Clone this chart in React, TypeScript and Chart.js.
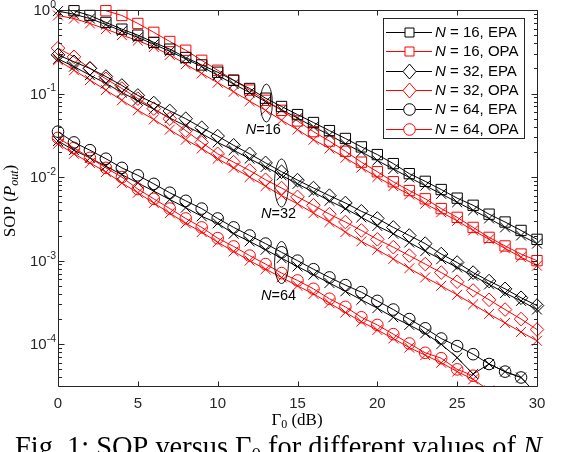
import { useEffect, useRef } from 'react';
import { Chart, registerables } from 'chart.js';

Chart.register(...registerables);

// ---------- data ----------
const gammaDb = [0, 1, 2, 3, 4, 5, 6, 7, 8, 9, 10, 11, 12, 13, 14, 15, 16, 17, 18, 19, 20, 21, 22, 23, 24, 25, 26, 27, 28, 29, 30];

const n16Epa = [null, 0.98, 0.86, 0.71, 0.59, 0.5, 0.41, 0.34, 0.27, 0.22, 0.18, 0.144, 0.115, 0.088, 0.07, 0.056, 0.045, 0.036, 0.029, 0.023, 0.0186, 0.0145, 0.011, 0.0089, 0.0071, 0.0056, 0.0046, 0.0036, 0.0029, 0.0023, 0.0018];
const n16Opa = [null, null, null, 0.98, 0.86, 0.69, 0.54, 0.42, 0.33, 0.25, 0.19, 0.145, 0.11, 0.083, 0.063, 0.047, 0.035, 0.027, 0.0204, 0.0151, 0.0116, 0.0088, 0.0069, 0.0055, 0.0042, 0.0033, 0.0025, 0.0019, 0.0015, 0.0012, 0.001];
const n16EpaX = [0.97, 0.89, 0.79, 0.67, 0.56, 0.47, 0.39, 0.32, 0.26, 0.21, 0.165, 0.13, 0.103, 0.08, 0.064, 0.051, 0.04, 0.032, 0.025, 0.02, 0.0158, 0.0125, 0.0099, 0.0079, 0.0063, 0.005, 0.004, 0.0032, 0.0025, 0.002, 0.0016];
const n16OpaX = [0.86, 0.79, 0.69, 0.59, 0.5, 0.43, 0.36, 0.29, 0.224, 0.174, 0.135, 0.105, 0.081, 0.063, 0.048, 0.037, 0.028, 0.022, 0.017, 0.013, 0.01, 0.0078, 0.0062, 0.0048, 0.0038, 0.003, 0.0023, 0.0018, 0.0014, 0.0011, 0.00087];

const n32Epa = [0.29, 0.24, 0.2, 0.16, 0.125, 0.095, 0.077, 0.062, 0.05, 0.039, 0.031, 0.024, 0.019, 0.0148, 0.0116, 0.0092, 0.0074, 0.006, 0.0049, 0.0039, 0.0032, 0.0025, 0.002, 0.0016, 0.0012, 0.00095, 0.00072, 0.00057, 0.00046, 0.00036, 0.00029];
const n32Opa = [0.35, 0.275, 0.2, 0.15, 0.115, 0.087, 0.066, 0.05, 0.036, 0.026, 0.019, 0.0151, 0.012, 0.0093, 0.0074, 0.0058, 0.0046, 0.0036, 0.0029, 0.0023, 0.0018, 0.00145, 0.00115, 0.00091, 0.00072, 0.00056, 0.00044, 0.00034, 0.00026, 0.0002, 0.00015];
const n32EpaX = [0.26, 0.21, 0.166, 0.132, 0.103, 0.082, 0.065, 0.051, 0.041, 0.033, 0.026, 0.021, 0.0166, 0.0132, 0.0105, 0.0083, 0.0066, 0.0052, 0.0042, 0.0033, 0.0026, 0.0021, 0.00165, 0.0013, 0.00104, 0.00083, 0.00066, 0.00052, 0.00041, 0.00033, 0.00026];
const n32OpaX = [0.25, 0.19, 0.145, 0.11, 0.083, 0.063, 0.049, 0.037, 0.028, 0.022, 0.0166, 0.0129, 0.01, 0.0078, 0.006, 0.0048, 0.0037, 0.0029, 0.0022, 0.0017, 0.00135, 0.00105, 0.00081, 0.00063, 0.0005, 0.00039, 0.0003, 0.00023, 0.00018, 0.00014, 0.00011];

const n64Epa = [0.035, 0.026, 0.021, 0.0166, 0.0129, 0.0105, 0.0083, 0.0065, 0.0052, 0.0042, 0.0032, 0.0025, 0.002, 0.0016, 0.00126, 0.001, 0.00079, 0.00063, 0.00051, 0.00042, 0.00033, 0.00026, 0.0002, 0.000155, 0.000117, 0.000095, 0.000076, 0.000058, 0.000047, 0.00004, null];
const n64Opa = [0.0295, 0.0224, 0.017, 0.0129, 0.01, 0.0072, 0.0055, 0.0042, 0.0032, 0.0025, 0.00186, 0.00148, 0.00115, 0.00091, 0.00071, 0.00058, 0.00046, 0.00035, 0.00028, 0.00021, 0.00017, 0.000132, 0.000102, 0.000079, 0.000068, 0.00005, 0.000042, null, null, null, null];
const n64EpaX = [0.027, 0.021, 0.017, 0.0135, 0.0107, 0.0085, 0.0068, 0.0054, 0.0043, 0.0034, 0.0028, 0.0021, 0.0017, 0.00135, 0.00107, 0.00085, 0.00068, 0.00054, 0.00043, 0.00034, 0.00027, 0.00021, 0.00017, 0.000135, 0.0001, 0.000069, 0.000044, 0.000058, 0.000047, 0.00004, 0.000025];
const n64OpaX = [0.025, 0.019, 0.0148, 0.0115, 0.0085, 0.0065, 0.0049, 0.0037, 0.0028, 0.0022, 0.00166, 0.00129, 0.001, 0.00079, 0.00063, 0.0005, 0.0004, 0.00031, 0.00024, 0.000186, 0.000148, 0.000117, 0.000091, 0.000074, 0.00006, 0.000047, 0.000038, 0.000028, null, null, null];

const xTicks = [0, 5, 10, 15, 20, 25, 30];
const yDecades = [0, -1, -2, -3, -4];
const yMinorDecades = [-5, -4, -3, -2, -1];
const xMin = 0;
const xMax = 30;
const yMin = Math.pow(10, -4.5);
const yMax = 1;

// annotation ellipses: [dB, value] and labels
const annotLabels = ['16', '32', '64'];
const annotX = [13.05, 14.0, 14.0];
const annotY = [0.077, 0.0085, 0.00095];

const BLACK = '#000000';
const RED = '#ff0000';
const AXIS = '#262626';

type Series = { label: string; data: (number | null)[]; color: string; style: string; r: number; legend: boolean };

const series: Series[] = [
  { label: '16, EPA', data: n16Epa, color: BLACK, style: 'rect', r: 7.3, legend: true },
  { label: '16, OPA', data: n16Opa, color: RED, style: 'rect', r: 7.3, legend: true },
  { label: '32, EPA', data: n32Epa, color: BLACK, style: 'rectRot', r: 6.8, legend: true },
  { label: '32, OPA', data: n32Opa, color: RED, style: 'rectRot', r: 6.8, legend: true },
  { label: '64, EPA', data: n64Epa, color: BLACK, style: 'circle', r: 5.8, legend: true },
  { label: '64, OPA', data: n64Opa, color: RED, style: 'circle', r: 5.8, legend: true },
  { label: 'x16e', data: n16EpaX, color: BLACK, style: 'crossRot', r: 7, legend: false },
  { label: 'x16o', data: n16OpaX, color: RED, style: 'crossRot', r: 7, legend: false },
  { label: 'x32e', data: n32EpaX, color: BLACK, style: 'crossRot', r: 7, legend: false },
  { label: 'x32o', data: n32OpaX, color: RED, style: 'crossRot', r: 7, legend: false },
  { label: 'x64e', data: n64EpaX, color: BLACK, style: 'crossRot', r: 7, legend: false },
  { label: 'x64o', data: n64OpaX, color: RED, style: 'crossRot', r: 7, legend: false },
];

type Part = { text: string; font: string; dy?: number };

function drawParts(ctx: CanvasRenderingContext2D, parts: Part[], x: number, y: number, align: 'left' | 'center' | 'right', baseline: CanvasTextBaseline) {
  ctx.textBaseline = baseline;
  ctx.textAlign = 'left';
  let total = 0;
  for (const p of parts) {
    ctx.font = p.font;
    total += ctx.measureText(p.text).width;
  }
  let cx = align === 'left' ? x : align === 'center' ? x - total / 2 : x - total;
  for (const p of parts) {
    ctx.font = p.font;
    ctx.fillText(p.text, cx, y + (p.dy || 0));
    cx += ctx.measureText(p.text).width;
  }
}

const SANS = '"Liberation Sans", Arial, sans-serif';
const SERIF = '"Liberation Serif", "Times New Roman", serif';

const decorPlugin = {
  id: 'decor',
  afterDraw(chart: any) {
    const ctx: CanvasRenderingContext2D = chart.ctx;
    const xs = chart.scales.x;
    const ys = chart.scales.y;
    const a = chart.chartArea;
    ctx.save();

    // axes box
    ctx.strokeStyle = AXIS;
    ctx.lineWidth = 1;
    const L = Math.round(a.left) + 0.5;
    const R = Math.round(a.right) + 0.5;
    const T = Math.round(a.top) + 0.5;
    const B = Math.round(a.bottom) + 0.5;
    ctx.beginPath();
    ctx.rect(L, T, R - L, B - T);
    ctx.stroke();

    // x ticks
    ctx.beginPath();
    for (const t of xTicks) {
      const px = Math.round(xs.getPixelForValue(t)) + 0.5;
      ctx.moveTo(px, B);
      ctx.lineTo(px, B - 5);
      ctx.moveTo(px, T);
      ctx.lineTo(px, T + 5);
    }
    // y major ticks
    for (const d of yDecades) {
      const py = Math.round(ys.getPixelForValue(Math.pow(10, d))) + 0.5;
      ctx.moveTo(L, py);
      ctx.lineTo(L + 6, py);
      ctx.moveTo(R, py);
      ctx.lineTo(R - 6, py);
    }
    // y minor ticks
    for (const d of yMinorDecades) {
      for (let m = 2; m <= 9; m++) {
        const v = m * Math.pow(10, d);
        if (v < yMin || v > yMax) continue;
        const py = Math.round(ys.getPixelForValue(v)) + 0.5;
        ctx.moveTo(L, py);
        ctx.lineTo(L + 3.5, py);
        ctx.moveTo(R, py);
        ctx.lineTo(R - 3.5, py);
      }
    }
    ctx.stroke();

    // tick labels
    ctx.fillStyle = AXIS;
    for (const t of xTicks) {
      const px = xs.getPixelForValue(t);
      drawParts(ctx, [{ text: String(t), font: `15px ${SANS}` }], px, B + 17, 'center', 'middle');
    }
    for (const d of yDecades) {
      const py = ys.getPixelForValue(Math.pow(10, d));
      drawParts(
        ctx,
        [
          { text: '10', font: `15px ${SANS}` },
          { text: String(d), font: `10.5px ${SANS}`, dy: -6 },
        ],
        56,
        py + 1,
        'right',
        'middle'
      );
    }

    // axis titles
    ctx.fillStyle = '#000';
    drawParts(
      ctx,
      [
        { text: 'Γ', font: `17px ${SERIF}` },
        { text: '0', font: `12px ${SERIF}`, dy: 4 },
        { text: ' (dB)', font: `17px ${SERIF}` },
      ],
      297,
      421,
      'center',
      'middle'
    );
    ctx.save();
    ctx.translate(11, 201);
    ctx.rotate(-Math.PI / 2);
    drawParts(
      ctx,
      [
        { text: 'SOP (', font: `17px ${SERIF}` },
        { text: 'P', font: `italic 17px ${SERIF}` },
        { text: 'out', font: `italic 12px ${SERIF}`, dy: 4 },
        { text: ')', font: `17px ${SERIF}` },
      ],
      0,
      0,
      'center',
      'middle'
    );
    ctx.restore();

    // annotations (ellipses + labels)
    const radii = [
      [6, 19],
      [7, 24],
      [7, 21],
    ];
    const labelDy = [27, 31, 33];
    ctx.strokeStyle = '#000';
    ctx.lineWidth = 0.9;
    for (let i = 0; i < annotLabels.length; i++) {
      const cx = xs.getPixelForValue(annotX[i]);
      const cy = ys.getPixelForValue(annotY[i]);
      ctx.beginPath();
      ctx.ellipse(cx, cy, radii[i][0], radii[i][1], 0, 0, Math.PI * 2);
      ctx.stroke();
      ctx.fillStyle = '#000';
      drawParts(
        ctx,
        [
          { text: 'N', font: `italic 14.5px ${SANS}` },
          { text: '=' + annotLabels[i], font: `14.5px ${SANS}` },
        ],
        cx + 14.5,
        cy + labelDy[i],
        'right',
        'middle'
      );
    }

    // legend
    const lx0 = 383.5, ly0 = 18.5, lx1 = 524.5, ly1 = 138.5;
    ctx.fillStyle = '#ffffff';
    ctx.fillRect(lx0, ly0, lx1 - lx0, ly1 - ly0);
    ctx.strokeStyle = AXIS;
    ctx.lineWidth = 1;
    ctx.strokeRect(lx0, ly0, lx1 - lx0, ly1 - ly0);
    const legendItems = series.filter((s) => s.legend);
    legendItems.forEach((s, i) => {
      const y = 32 + i * 19.3;
      const my = Math.round(y) + 0.5;
      const mx = 409.5;
      ctx.lineWidth = 1;
      ctx.strokeStyle = s.color;
      ctx.beginPath();
      ctx.moveTo(386, my);
      ctx.lineTo(432, my);
      ctx.stroke();
      ctx.fillStyle = '#ffffff';
      ctx.strokeStyle = s.color;
      ctx.beginPath();
      if (s.style === 'rect') {
        ctx.rect(mx - 4.5, my - 4.5, 9, 9);
      } else if (s.style === 'rectRot') {
        ctx.moveTo(mx, my - 7.5);
        ctx.lineTo(mx + 6.5, my);
        ctx.lineTo(mx, my + 7.5);
        ctx.lineTo(mx - 6.5, my);
        ctx.closePath();
      } else {
        ctx.arc(mx, my, 5.8, 0, Math.PI * 2);
      }
      ctx.fill();
      ctx.stroke();
      ctx.fillStyle = '#000';
      drawParts(
        ctx,
        [
          { text: 'N', font: `italic 15px ${SANS}` },
          { text: ' = ' + s.label, font: `15px ${SANS}` },
        ],
        435,
        y + 1,
        'left',
        'middle'
      );
    });

    // caption
    ctx.fillStyle = '#000';
    drawParts(
      ctx,
      [
        { text: 'Fig. 1: SOP versus Γ', font: `28.4px ${SERIF}` },
        { text: '0', font: `19px ${SERIF}`, dy: 5 },
        { text: ' for different values of ', font: `28.4px ${SERIF}` },
        { text: 'N', font: `italic 28.4px ${SERIF}` },
      ],
      15,
      456,
      'left',
      'alphabetic'
    );

    ctx.restore();
  },
};

export default function App() {
  const ref = useRef<HTMLCanvasElement | null>(null);

  useEffect(() => {
    if (!ref.current) return;
    const datasets = series.map((s) => ({
      label: s.label,
      data: gammaDb.map((g, i) => ({ x: g, y: s.data[i] })),
      borderColor: s.color,
      borderWidth: 1,
      pointStyle: s.style,
      pointRadius: s.r,
      pointBorderWidth: 1,
      pointBorderColor: s.color,
      pointBackgroundColor: 'rgba(0,0,0,0)',
      pointHoverRadius: s.r,
      showLine: true,
      fill: false,
      tension: 0,
      spanGaps: false,
      clip: { left: 10, right: 10, top: 10, bottom: 0 },
    }));
    const chart = new Chart(ref.current, {
      type: 'line',
      data: { datasets: datasets as any },
      options: {
        animation: false,
        responsive: false,
        events: [],
        layout: { padding: { left: 58, right: 25, top: 10, bottom: 66 } },
        plugins: { legend: { display: false }, tooltip: { enabled: false } },
        scales: {
          x: { type: 'linear', min: xMin, max: xMax, display: false },
          y: { type: 'logarithmic', min: yMin, max: yMax, display: false, bounds: 'data' } as any,
        },
      },
      plugins: [decorPlugin],
    });
    return () => chart.destroy();
  }, []);

  return (
    <div style={{ position: 'fixed', left: 0, top: 0, width: 562, height: 452, background: '#fff', overflow: 'hidden' }}>
      <canvas ref={ref} width={562} height={452} style={{ width: 562, height: 452, display: 'block' }} />
    </div>
  );
}
